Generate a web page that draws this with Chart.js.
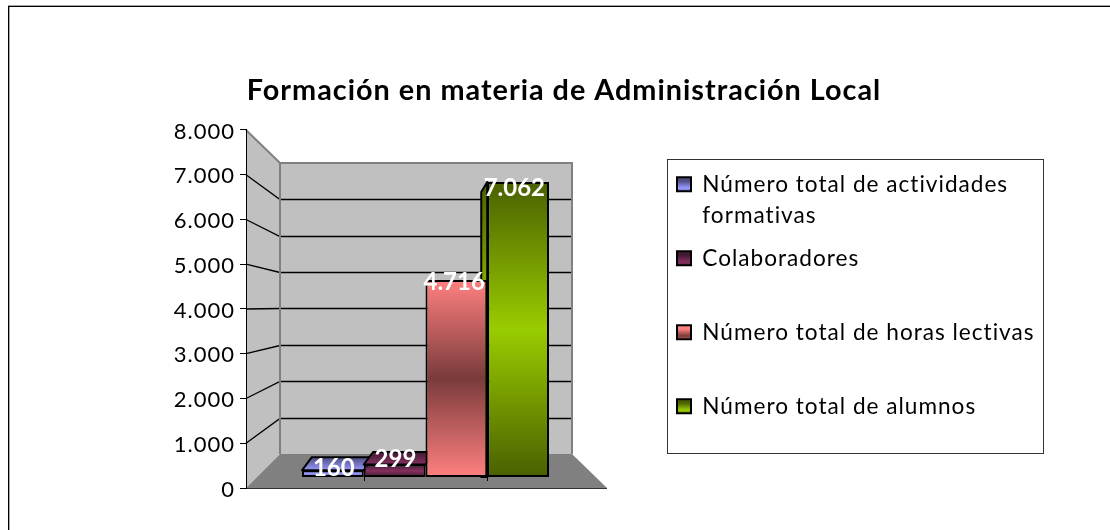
<!DOCTYPE html>
<html lang="es">
<head>
<meta charset="utf-8">
<title>Formación en materia de Administración Local</title>
<script src="https://cdn.jsdelivr.net/npm/chart.js@4"></script>
<style>
html,body{margin:0;padding:0;background:#fff}
canvas{display:block}
</style>
</head>
<body>
<canvas id="c" width="1110" height="530"></canvas>
<script>
const chartTitle = 'Formación en materia de Administración Local';
const categories = ['Formación'];
const seriesNames = ['Número total de actividades formativas', 'Colaboradores', 'Número total de horas lectivas', 'Número total de alumnos'];
const seriesValues = [160, 299, 4716, 7062];
const valueLabels = ['160', '299', '4.716', '7.062'];
const yTickLabels = ['0', '1.000', '2.000', '3.000', '4.000', '5.000', '6.000', '7.000', '8.000'];
const legendLines = [
  ['Número total de actividades', 'formativas'],
  ['Colaboradores', ''],
  ['Número total de horas lectivas', ''],
  ['Número total de alumnos', '']
];
const edgeColors = ['#4d4d80', '#401a33', '#ff8080', '#4a6000'];
const midColors = ['#9999ff', '#85305f', '#7a3b3b', '#99cc00'];

const FONT = 'Lato, "Open Sans", sans-serif';
const SPACING = '1px';
const AXIS_MAX = 8000;
const LEGEND_SHIFT = 6;

function vertical(ctx, y0, y1, edge, mid, end) {
  const g = ctx.createLinearGradient(0, y0, 0, y1);
  g.addColorStop(0, edge);
  g.addColorStop(0.5, mid);
  g.addColorStop(1, end || edge);
  return g;
}

// depth vector of the 3D bars: perspective makes it change with the bar height
function depthOf(v) {
  const t = v / 7062;
  return { dx: 10 - 16 * t, dy: -13.5 + 23.5 * t };
}

const scene = {
  id: 'scene',
  beforeLayout(chart) { chart.ctx.letterSpacing = SPACING; },
  beforeRender(chart) { chart.ctx.letterSpacing = SPACING; },
  afterLayout(chart) {
    // the legend block sits a little below the centre of the plot
    const lg = chart.legend;
    lg.top += LEGEND_SHIFT;
    lg.bottom += LEGEND_SHIFT;
    lg.adjustHitBoxes();
  },
  beforeDraw(chart) {
    const { ctx, chartArea: a, scales } = chart;
    const y = scales.y;
    const L = a.left, T = a.top, R = a.right, B = a.bottom;
    const bl = L + 34, br = R - 33, bt = T + 33, bb = B - 34;
    const backY = v => bb - (bb - bt) * v / AXIS_MAX;
    ctx.save();
    // page frame
    ctx.fillStyle = '#fff';
    ctx.fillRect(0, 0, chart.width, chart.height);
    ctx.fillStyle = '#a6a6a6';
    ctx.fillRect(8, 5, chart.width - 8, 1);
    ctx.fillRect(9, 6, 1, chart.height - 6);
    ctx.fillStyle = '#000';
    ctx.fillRect(8, 6, chart.width - 8, 1);
    ctx.fillRect(8, 6, 1, chart.height - 6);
    // walls and floor
    ctx.fillStyle = '#c0c0c0';
    ctx.fillRect(bl, bt, br - bl, bb - bt);
    ctx.beginPath();
    ctx.moveTo(L, T); ctx.lineTo(bl, bt); ctx.lineTo(bl, bb); ctx.lineTo(L, B); ctx.closePath();
    ctx.fill();
    ctx.fillStyle = '#808080';
    ctx.beginPath();
    ctx.moveTo(L, B); ctx.lineTo(bl, bb); ctx.lineTo(br, bb); ctx.lineTo(R + 2, B); ctx.closePath();
    ctx.fill();
    // gridlines
    ctx.strokeStyle = '#000';
    ctx.lineWidth = 1.3;
    for (let v = 1000; v < AXIS_MAX; v += 1000) {
      const f = y.getPixelForValue(v), b = Math.round(backY(v)) + 0.5;
      ctx.beginPath();
      ctx.moveTo(L, f); ctx.lineTo(bl, b); ctx.lineTo(br, b);
      ctx.stroke();
    }
    // wall borders
    ctx.strokeStyle = '#808080';
    ctx.lineWidth = 2;
    ctx.beginPath();
    ctx.moveTo(L, T); ctx.lineTo(bl, bt); ctx.lineTo(br, bt); ctx.lineTo(br, bb);
    ctx.moveTo(bl, bt); ctx.lineTo(bl, bb);
    ctx.stroke();
    ctx.strokeStyle = '#333';
    ctx.lineWidth = 1;
    ctx.beginPath();
    ctx.moveTo(L, B + 0.5); ctx.lineTo(R + 2, B + 0.5);
    ctx.stroke();
    ctx.restore();

    // legend swatches get a gradient over their own height
    const lg = chart.legend;
    lg.legendItems.forEach((it, i) => {
      const h = lg.legendHitBoxes[i];
      if (!h) return;
      const top = h.top + 8;
      it.fillStyle = vertical(ctx, top, top + 14, edgeColors[i], midColors[i]);
    });
  },
  beforeDatasetsDraw(chart) {
    // extrusion of each bar, left to right, so the front faces cover it
    const { ctx } = chart;
    ctx.save();
    seriesValues.forEach((v, i) => {
      const el = chart.getDatasetMeta(i).data[0];
      const x0 = el.x - el.width / 2, x1 = el.x + el.width / 2;
      const { dx, dy } = depthOf(v);
      ctx.strokeStyle = '#000';
      ctx.lineWidth = 2;
      ctx.lineJoin = 'round';
      if (dy < 0) {
        ctx.fillStyle = vertical(ctx, el.y + dy, el.y + dy + 2 * (-dy), edgeColors[i], midColors[i]);
        ctx.beginPath();
        ctx.moveTo(x0, el.y); ctx.lineTo(x0 + dx, el.y + dy); ctx.lineTo(x1 + dx, el.y + dy); ctx.lineTo(x1, el.y);
        ctx.closePath(); ctx.fill(); ctx.stroke();
      }
      if (dx < -1) {
        ctx.fillStyle = vertical(ctx, el.y, el.base, edgeColors[i], midColors[i]);
        ctx.beginPath();
        ctx.moveTo(x0, el.y); ctx.lineTo(x0 + dx, el.y + dy); ctx.lineTo(x0 + dx, el.base); ctx.lineTo(x0, el.base);
        ctx.closePath(); ctx.fill(); ctx.stroke();
      }
    });
    ctx.restore();
  },
  afterDatasetsDraw(chart) {
    const { ctx } = chart;
    ctx.save();
    // small category ticks under the bars
    ctx.strokeStyle = '#000';
    ctx.lineWidth = 1;
    [0, 2].forEach(i => {
      const el = chart.getDatasetMeta(i).data[0];
      const x = Math.round(el.x + el.width / 2) + 0.5;
      ctx.beginPath(); ctx.moveTo(x, el.base); ctx.lineTo(x, el.base + 4); ctx.stroke();
    });
    // value labels
    ctx.fillStyle = '#fff';
    ctx.font = '700 24px ' + FONT;
    ctx.textAlign = 'center';
    ctx.textBaseline = 'middle';
    ctx.letterSpacing = '0px';
    seriesValues.forEach((v, i) => {
      const el = chart.getDatasetMeta(i).data[0];
      const { dx, dy } = depthOf(v);
      const nudge = i === 0 ? 3 : 0;
      ctx.fillText(valueLabels[i], el.x + dx * 0.3 - 2, el.y + dy * 0.5 + 1 + nudge);
    });
    ctx.restore();
  },
  afterDraw(chart) {
    // legend frame
    const { ctx } = chart, lg = chart.legend;
    const first = lg.legendHitBoxes[0], last = lg.legendHitBoxes[lg.legendHitBoxes.length - 1];
    ctx.save();
    ctx.strokeStyle = '#333';
    ctx.lineWidth = 1;
    ctx.strokeRect(667.5, Math.round(first.top - 13.5) + 0.5, 376, Math.round(last.top + last.height - first.top + 10));
    ctx.restore();
  }
};

new Chart(document.getElementById('c'), {
  type: 'bar',
  plugins: [scene],
  data: {
    labels: categories,
    datasets: seriesNames.map((name, i) => ({
      label: name,
      data: [seriesValues[i]],
      yAxisID: 'yBars',
      borderColor: '#000',
      borderWidth: 2,
      borderSkipped: false,
      backgroundColor(c) {
        const s = c.chart.scales.yBars;
        if (!s) return midColors[i];
        return vertical(c.chart.ctx, s.getPixelForValue(seriesValues[i]), s.getPixelForValue(0), edgeColors[i], midColors[i]);
      }
    }))
  },
  options: {
    responsive: false,
    animation: false,
    events: [],
    layout: { padding: { left: 91, right: 73, bottom: 42, top: 0 } },
    datasets: { bar: { categoryPercentage: 0.688, barPercentage: 1 } },
    plugins: {
      tooltip: { enabled: false },
      title: {
        display: true,
        text: chartTitle,
        color: '#000',
        font: { family: FONT, size: 28.8, weight: '700', lineHeight: 1.2 },
        padding: { top: 73, bottom: 22.4 }
      },
      legend: {
        display: true,
        position: 'right',
        align: 'center',
        fullSize: false,
        maxWidth: 372,
        labels: {
          color: '#000',
          boxWidth: 14,
          boxHeight: 14,
          padding: 12,
          font: { family: FONT, size: 22.6, lineHeight: 31 / 22.6 },
          generateLabels() {
            return legendLines.map((lines, i) => ({
              text: lines,
              fillStyle: midColors[i],
              strokeStyle: '#000',
              lineWidth: 2,
              datasetIndex: i,
              hidden: false
            }));
          }
        }
      }
    },
    scales: {
      x: { display: false },
      y: {
        position: 'left',
        min: 0,
        max: AXIS_MAX,
        afterFit(s) { s.width = 155; },
        afterBuildTicks(s) { s.ticks = yTickLabels.map((_, i) => ({ value: i * 1000 })); },
        ticks: {
          color: '#000',
          padding: 5,
          labelOffset: 1.5,
          font: { family: FONT, size: 22 },
          callback(value, i) { return yTickLabels[i]; }
        },
        grid: { drawOnChartArea: false, drawTicks: true, tickLength: 6, color: '#000' },
        border: { display: true, color: '#000', width: 1 }
      },
      yBars: {
        position: 'right',
        min: -263,
        max: 8307,
        afterFit(s) { s.width = 60; },
        ticks: { display: false },
        grid: { display: false },
        border: { display: false }
      }
    }
  }
});
</script>
</body>
</html>
